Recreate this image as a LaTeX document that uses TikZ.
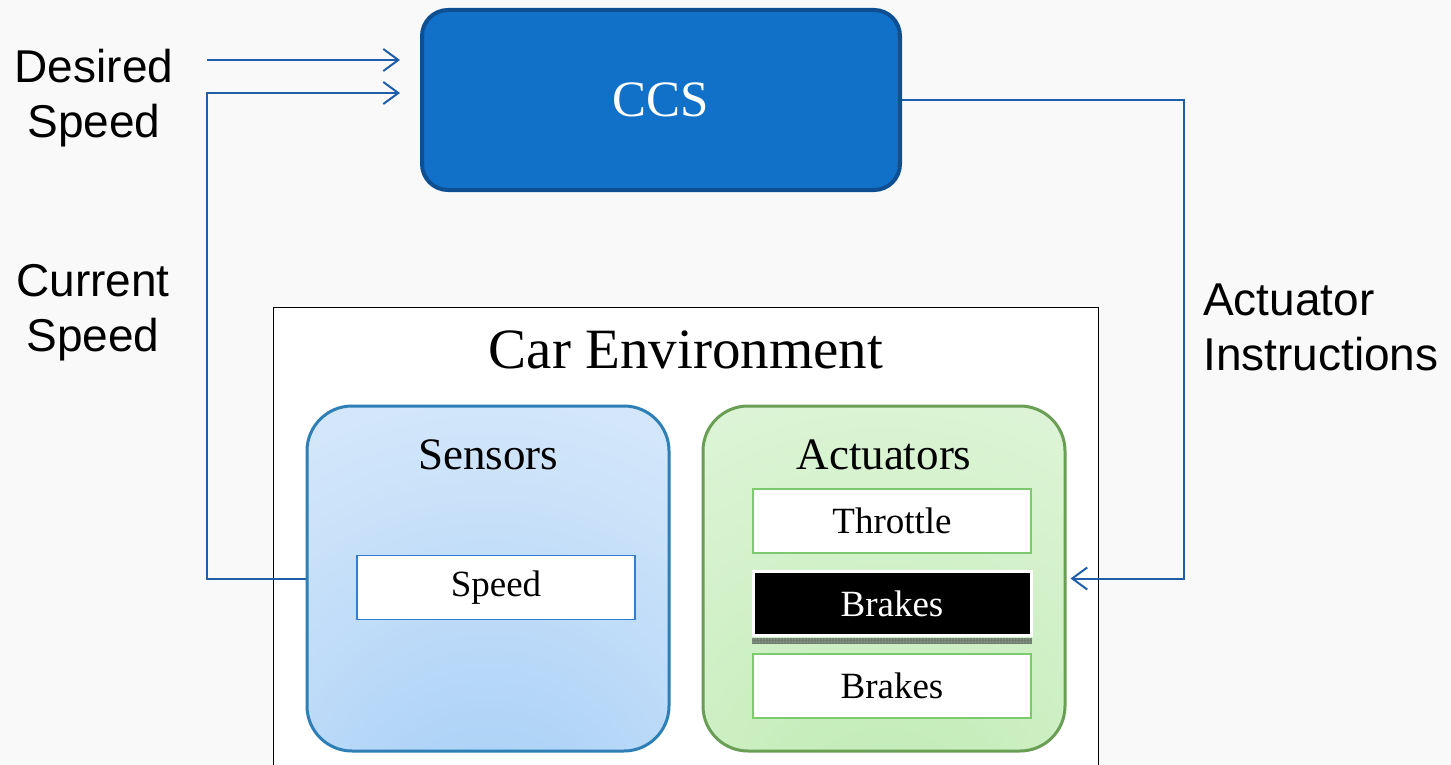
\documentclass[tikz,border=0pt]{standalone}
\usepackage{fontspec}
\setmainfont{Liberation Serif}
\newfontfamily\labelfont{Liberation Sans}
\usetikzlibrary{arrows.meta,patterns,calc}

\definecolor{bgcol}{HTML}{F9F9F9}
\definecolor{ccsfill}{HTML}{1170C8}
\definecolor{ccsedge}{HTML}{0D4F91}
\definecolor{wire}{HTML}{1F5EA8}
\definecolor{sensedge}{HTML}{2E7FB5}
\definecolor{sensDark}{HTML}{9FCCF4}
\definecolor{sensMid}{HTML}{BAD9F8}
\definecolor{sensSoft}{HTML}{D4E7FA}
\definecolor{sensLight}{HTML}{E2F0FD}
\definecolor{speededge}{HTML}{2F7FD0}
\definecolor{actedge}{HTML}{6A9E55}
\definecolor{actDark}{HTML}{BAE8AE}
\definecolor{actMid}{HTML}{CCEFC2}
\definecolor{actSoft}{HTML}{DCF4D5}
\definecolor{actLight}{HTML}{E6F8E1}
\definecolor{itemedge}{HTML}{7DC96E}
\definecolor{stripcol}{HTML}{6F7F6F}

\pgfdeclareradialshading{sensshade}{\pgfpoint{0bp}{-45bp}}{%
  color(0bp)=(sensDark); color(25bp)=(sensMid); color(50bp)=(sensSoft);
  color(80bp)=(sensLight); color(100bp)=(sensLight)}
\pgfdeclareradialshading{actshade}{\pgfpoint{0bp}{-45bp}}{%
  color(0bp)=(actDark); color(25bp)=(actMid); color(50bp)=(actSoft);
  color(80bp)=(actLight); color(100bp)=(actLight)}

\tikzset{
  sidelabel/.style={font=\labelfont\fontsize{46}{55}\selectfont, inner sep=0pt},
  wireline/.style={draw=wire, line width=2pt},
  flow/.style={wireline, -{Straight Barb[length=15pt,width=22pt,line width=2pt]}},
  group/.style={rounded corners=45pt, line width=3pt, minimum width=362pt,
    minimum height=345pt, inner sep=0pt},
  item/.style={minimum width=278pt, minimum height=64pt, inner sep=0pt,
    fill=white, line width=1.2pt, font=\fontsize{37}{42}\selectfont},
  grouptitle/.style={font=\fontsize{45}{50}\selectfont, inner sep=0pt},
}

\begin{document}
\begin{tikzpicture}[x=1pt,y=-1pt]
  % page background
  \fill[bgcol] (0,0) rectangle (1451,765);
  \useasboundingbox (0,0) rectangle (1451,765);

  % controller
  \node[draw=ccsedge, fill=ccsfill, line width=4pt, rounded corners=26pt,
        minimum width=478pt, minimum height=180pt, text=white,
        font=\fontsize{51}{56}\selectfont] (ccs) at (661,100) {CCS};

  % environment frame
  \node[draw=black, fill=white, line width=1.2pt, minimum width=825pt,
        minimum height=480pt, inner sep=0pt, anchor=north west] (env) at (273,307) {};
  \node[font=\fontsize{57}{64}\selectfont, inner sep=0pt] (envtitle) at (686,350) {Car Environment};

  % sensors group
  \node[group, draw=sensedge, shading=sensshade] (sens) at (488,578.5) {};
  \node[grouptitle] (senstitle) at (488,455) {Sensors};
  \node[item, draw=speededge] (speed) at (496,587.5) {Speed};

  % actuators group
  \node[group, draw=actedge, shading=actshade] (act) at (884,578.5) {};
  \node[grouptitle] (acttitle) at (884,455) {Actuators};
  \node[item, draw=itemedge] (throttle) at (892,521) {Throttle};
  \node[item, fill=black, draw=white, line width=3pt, text=white] (brakesA) at (892,603.5) {Brakes};
  \fill[stripcol] (752,638) rectangle (1032,644);
  \path[pattern=dots, pattern color=white!75!stripcol] (752,638) rectangle (1032,644);
  \node[item, draw=itemedge] (brakesB) at (892,686) {Brakes};

  % side labels
  \node[sidelabel, align=center] (desired) at (94,98) {Desired\\Speed};
  \node[sidelabel, align=center] (current) at (93,313) {Current\\Speed};
  \node[sidelabel, align=left, anchor=west] (instr) at (1203,327) {Actuator\\Instructions};

  % connectors
  \coordinate (dsIn) at (207,60);
  \coordinate (csIn) at (207,93);
  \coordinate (aiIn) at (1184,100);
  \draw[flow, shorten >=20pt] (dsIn) -- (dsIn -| ccs.west);
  \draw[flow, shorten >=20pt] (sens.west) -| (csIn) -- (csIn -| ccs.west);
  \draw[flow, shorten >=4pt] (ccs.east |- aiIn) -| (aiIn |- act.east) -- (act.east);
\end{tikzpicture}
\end{document}
